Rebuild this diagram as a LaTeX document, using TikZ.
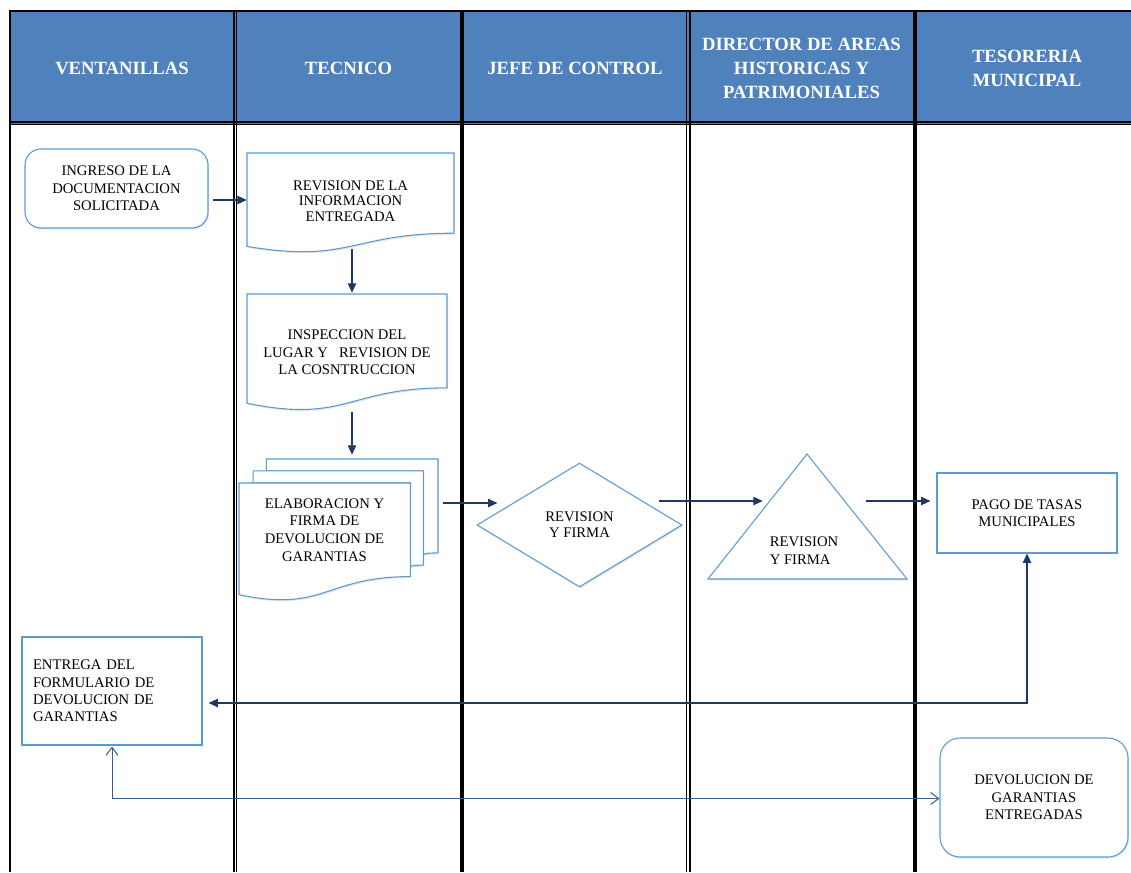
\documentclass[tikz,border=0pt]{standalone}
\usepackage{fontspec}
\setmainfont{Liberation Serif}
\usetikzlibrary{arrows.meta,shapes.geometric,shadows,calc}

\definecolor{headblue}{RGB}{79,129,189}
\definecolor{shapeblue}{RGB}{91,155,213}
\definecolor{navy}{RGB}{31,56,100}
\definecolor{steel}{RGB}{58,94,140}

\tikzset{
  lanehead/.style={text=white, font=\fontsize{14}{18}\selectfont\bfseries, align=center, inner sep=0pt},
  txt/.style={font=\fontsize{11}{13.1}\selectfont, align=center, inner sep=0pt},
  softshadow/.style={drop shadow={shadow xshift=0.8pt, shadow yshift=-1.1pt, opacity=0.22, fill=black!50}},
  outline/.style={draw=shapeblue, line width=0.8pt, fill=white, softshadow},
  boxnode/.style={outline, txt, rectangle},
  flow/.style={draw=navy, line width=1pt, -{Triangle[length=7pt,width=6.2pt]}},
  flowboth/.style={draw=navy, line width=1pt, {Triangle[length=7pt,width=6.2pt]}-{Triangle[length=7pt,width=6.2pt]}},
  openboth/.style={draw=steel, line width=0.75pt, {Straight Barb[length=6pt,width=9pt]}-{Straight Barb[length=6pt,width=9pt]}},
}

% flowchart "document" outline: top-left x, y, width, height
\newcommand\docoutline[4]{%
  \draw[outline] (#1,#2) -- ++(#3,0) -- ++(0,{0.802*#4})
    .. controls ({#1+0.5*#3},{#2+0.802*#4}) and ({#1+0.5*#3},{#2+1.107*#4}) ..
    (#1,{#2+0.934*#4}) -- cycle;}

\begin{document}
\begin{tikzpicture}[x=0.75pt,y=-0.75pt]
\useasboundingbox (0,0) rectangle (1131,872);
\fill[white] (0,0) rectangle (1131,872);

% header band
\fill[headblue] (10,10) rectangle (1131,125);
\draw[line width=1.3pt] (9,10.8) -- (1131,10.8);
\draw[line width=1pt] (10,122) -- (1131,122);
\draw[line width=1pt] (10,124.7) -- (1131,124.7);

% lane borders
\draw[line width=1.5pt] (10,10) -- (10,872);
\draw[line width=1.2pt] (234.2,10) -- (234.2,872);
\draw[line width=1pt] (236.8,10) -- (236.8,872);
\draw[line width=3pt] (462,10) -- (462,872);
\draw[line width=0.8pt] (686.2,10) -- (686.2,872);
\draw[line width=1.5pt] (689.7,10) -- (689.7,872);
\draw[line width=3pt] (914.7,10) -- (914.7,872);

% lane titles
\node[lanehead] (hv) at (122,68) {VENTANILLAS};
\node[lanehead] (ht) at (348.5,68) {TECNICO};
\node[lanehead] (hj) at (575,68) {JEFE DE CONTROL};
\node[lanehead] (hd) at (801.5,68) {DIRECTOR DE AREAS\\HISTORICAS Y\\PATRIMONIALES};
\node[lanehead] (hs) at (1027,68) {TESORERIA\\MUNICIPAL};

% outlines of document shapes and the triangle
\docoutline{247}{153}{207}{100}
\docoutline{247}{294}{200}{117}
\draw[outline] (266.4,459) -- (438,459) -- (438,552.9)
  .. controls (430.6,552.9) and (423.3,553.4) .. (423.3,554.7)
  -- (423.3,470.85) -- (266.4,470.85) -- cycle;
\draw[outline] (253.1,470.85) -- (423.3,470.85) -- (423.3,565.1)
  .. controls (416.8,565.1) and (410.3,565.7) .. (410.3,566.5)
  -- (410.3,483) -- (253.1,483) -- cycle;
\draw[outline] (239,594.7) .. controls (324.7,612.7) and (324.7,576.6) .. (410.3,576.6)
  -- (410.3,483) -- (239,483) -- cycle;
\draw[outline] (807,454) -- (907,579) -- (708,579) -- cycle;

% steps
\node[boxnode, rounded corners=12pt, minimum width=137.25pt, minimum height=59.25pt] (ing) at (116.5,188.5)
  {INGRESO DE LA\\DOCUMENTACION\\SOLICITADA};
\node[txt, font=\fontsize{11}{11.6}\selectfont, minimum width=155.25pt, minimum height=75pt] (rev) at (350.5,201)
  {REVISION DE LA\\INFORMACION\\ENTREGADA};
\node[txt, minimum width=150pt, minimum height=87.75pt] (insp) at (347,352.5)
  {INSPECCION DEL\\LUGAR Y\ \ \ REVISION DE\\LA COSNTRUCCION};
\node[txt, font=\fontsize{11}{13.3}\selectfont, minimum width=128.25pt, minimum height=70.5pt] (elab) at (324.5,530)
  {ELABORACION Y\\FIRMA DE\\DEVOLUCION DE\\GARANTIAS};
\node[outline, diamond, txt, font=\fontsize{11}{12}\selectfont, minimum width=153.75pt, minimum height=93pt] (dia) at (579.5,525)
  {REVISION\\Y FIRMA};
\node[inner sep=0pt, minimum width=149.25pt, minimum height=93.75pt] (tri) at (807.5,516.5) {};
\node[txt, align=left, font=\fontsize{11}{13.5}\selectfont] (trit) at (804,551) {REVISION\\Y FIRMA};
\node[boxnode, font=\fontsize{11}{12.75}\selectfont, minimum width=135pt, minimum height=60pt] (pago) at (1027,513)
  {PAGO DE TASAS\\MUNICIPALES};
\node[boxnode, align=left, inner xsep=8.25pt, text width=118.5pt, minimum height=81pt] (ent) at (112,691)
  {ENTREGA DEL\\FORMULARIO DE\\DEVOLUCION DE\\GARANTIAS};
\node[boxnode, rounded corners=15pt, minimum width=141pt, minimum height=89.25pt] (dev) at (1034,797.5)
  {DEVOLUCION DE\\GARANTIAS\\ENTREGADAS};

% connectors
\draw[flow] ($(ing.east |- rev.west)+(4,-1)$) -- ($(rev.west)+(0,-1)$);
\draw[flow] ($(rev.south)+(1.5,-2)$) -- ($(insp.north)+(5,-1)$);
\draw[flow] ($(insp.south)+(5,1)$) -- ($(elab.north)+(27.5,-28)$);
\draw[flow] ($(elab.east)+(33,-27)$) -- ($(dia.west)+(21,-22)$);
\draw[flow] ($(dia.east)+(-24,-24)$) -- ($(tri.west)+(55,-15.5)$);
\draw[flow] ($(tri.east)+(-41,-15.5)$) -- ($(pago.west)+(-6,-12)$);
\draw[flowboth] ($(ent.east)+(6,12)$) -| (pago.south);
\draw[openboth] ($(ent.south)+(0,1)$) |- ($(dev.west)+(0,1)$);
\end{tikzpicture}
\end{document}
